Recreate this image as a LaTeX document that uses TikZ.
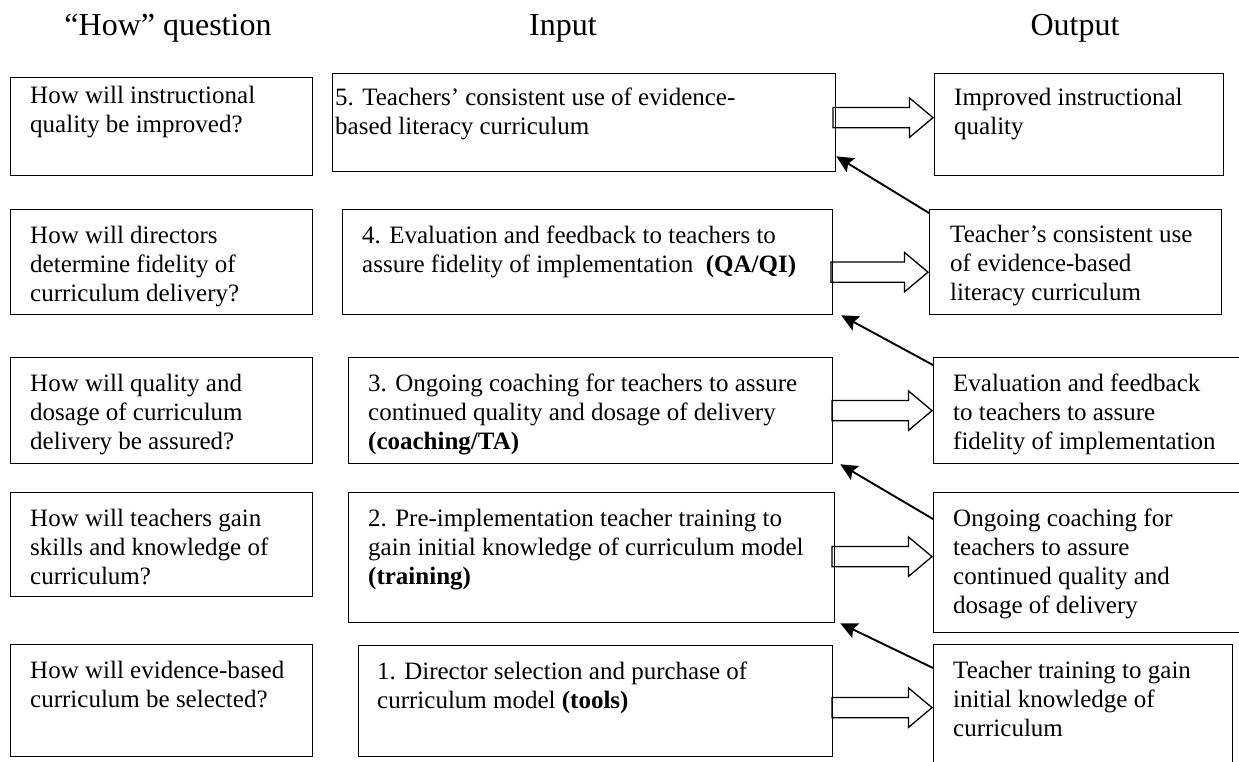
\documentclass[tikz,border=0pt]{standalone}
\usepackage{fontspec}
\setmainfont{Liberation Serif}
\usetikzlibrary{shapes.arrows,arrows.meta,positioning}

\begin{document}
\begin{tikzpicture}[x=1pt, y=-1pt,
    box/.style={rectangle, draw, line width=1.3pt, anchor=north west, inner sep=0pt},
    txt/.style={anchor=north west, align=left, inner xsep=20pt, inner ysep=17pt, font=\fontsize{25}{29}\selectfont},
    head/.style={anchor=base, font=\fontsize{32}{36}\selectfont},
    hollow/.style={single arrow, draw, line width=1.3pt, inner xsep=0pt, inner ysep=9.5pt, minimum height=100pt,
        single arrow head extend=9.5pt, single arrow tip angle=80, anchor=tip},
    link/.style={-{Stealth[length=17pt, width=16pt, inset=3pt]}, line width=1.9pt}
]
    \path[use as bounding box, fill=white] (0,0) rectangle (1239,761);

    % Column titles
    \node[head] (hq) at (168,35) {“How” question};
    \node[head] (hi) at (563,35) {Input};
    \node[head] (ho) at (1075,35) {Output};

    % "How" questions
    \node[box, minimum width=302pt, minimum height=98pt] (q5) at (10,77) {};
    \node[box, minimum width=302pt, minimum height=105pt] (q4) at (10,209) {};
    \node[box, minimum width=302pt, minimum height=106pt] (q3) at (10,357) {};
    \node[box, minimum width=302pt, minimum height=104pt] (q2) at (10,492) {};
    \node[box, minimum width=302pt, minimum height=112pt] (q1) at (10,644) {};
    \node[txt, inner ysep=9pt] (q5t) at (q5.north west) {How will instructional\\quality be improved?};
    \node[txt] (q4t) at (q4.north west) {How will directors\\determine fidelity of\\curriculum delivery?};
    \node[txt] (q3t) at (q3.north west) {How will quality and\\dosage of curriculum\\delivery be assured?};
    \node[txt] (q2t) at (q2.north west) {How will teachers gain\\skills and knowledge of\\curriculum?};
    \node[txt] (q1t) at (q1.north west) {How will evidence-based\\curriculum be selected?};

    % Inputs
    \node[box, minimum width=503pt, minimum height=98pt] (i5) at (332,73) {};
    \node[box, minimum width=490pt, minimum height=105pt] (i4) at (342,209) {};
    \node[box, minimum width=484pt, minimum height=106pt] (i3) at (348,357) {};
    \node[box, minimum width=486pt, minimum height=130pt] (i2) at (348,492) {};
    \node[box, minimum width=474pt, minimum height=111pt] (i1) at (358,645) {};
    \node[txt, inner xsep=3pt, inner ysep=15pt] (i5t) at (i5.north west) {5. Teachers’ consistent use of evidence-\\based literacy curriculum};
    \node[txt] (i4t) at (i4.north west) {4. Evaluation and feedback to teachers to\\assure fidelity of implementation\ \ \textbf{(QA/QI)}};
    \node[txt] (i3t) at (i3.north west) {3. Ongoing coaching for teachers to assure\\continued quality and dosage of delivery\\\textbf{(coaching/TA)}};
    \node[txt] (i2t) at (i2.north west) {2. Pre-implementation teacher training to\\gain initial knowledge of curriculum model\\\textbf{(training)}};
    \node[txt, inner xsep=19pt] (i1t) at (i1.north west) {1. Director selection and purchase of\\curriculum model \textbf{(tools)}};

    % Outputs
    \node[box, minimum width=289pt, minimum height=102pt] (o5) at (934,73) {};
    \node[box, minimum width=292pt, minimum height=105pt] (o4) at (929,209) {};
    \node[box, minimum width=312pt, minimum height=106pt] (o3) at (933,357) {};
    \node[box, minimum width=312pt, minimum height=140pt] (o2) at (933,492) {};
    \node[box, minimum width=299pt, minimum height=146pt] (o1) at (933,644) {};
    \node[txt, inner ysep=15pt] (o5t) at (o5.north west) {Improved instructional\\quality};
    \node[txt, inner xsep=21pt, inner ysep=16pt] (o4t) at (o4.north west) {Teacher’s consistent use\\of evidence-based\\literacy curriculum};
    \node[txt] (o3t) at (o3.north west) {Evaluation and feedback\\to teachers to assure\\fidelity of implementation};
    \node[txt] (o2t) at (o2.north west) {Ongoing coaching for\\teachers to assure\\continued quality and\\dosage of delivery};
    \node[txt] (o1t) at (o1.north west) {Teacher training to gain\\initial knowledge of\\curriculum};

    % Input to output
    \node[hollow] (a5) at ([yshift=7pt]o5.west) {};
    \node[hollow, minimum height=97pt] (a4) at ([yshift=-10pt]o4.west) {};
    \node[hollow] (a3) at (o3.west) {};
    \node[hollow] (a2) at ([yshift=6pt]o2.west) {};
    \node[hollow] (a1) at ([yshift=10pt]o1.west) {};

    % Output feeds next input
    \draw[link] ([yshift=-4pt]o4.north west) -- ([yshift=16pt]i5.south east);
    \draw[link] ([yshift=-8pt]o3.north west) -- ([xshift=8pt]i4.south east);
    \draw[link] ([yshift=-27pt]o2.north west) -- ([xshift=7pt]i3.south east);
    \draw[link] ([yshift=-24pt]o1.north west) -- ([xshift=5pt]i2.south east);
\end{tikzpicture}
\end{document}
